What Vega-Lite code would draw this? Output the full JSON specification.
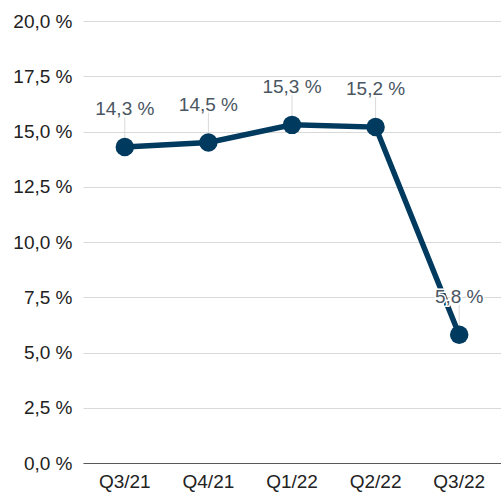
{
  "$schema": "https://vega.github.io/schema/vega-lite/v6.json",
  "autosize": {"type": "none"},
  "padding": {"left": 83, "top": 21, "right": 0, "bottom": 29},
  "width": 418,
  "height": 442,
  "background": "white",
  "config": {
    "view": {"stroke": null},
    "font": "Liberation Sans",
    "axis": {"labelFont": "Liberation Sans", "labelFontSize": 19, "labelColor": "#222222", "ticks": false, "title": null}
  },
  "data": {"values": [
    {"q": "Q3/21", "v": 14.3, "label": "14,3 %"},
    {"q": "Q4/21", "v": 14.5, "label": "14,5 %"},
    {"q": "Q1/22", "v": 15.3, "label": "15,3 %"},
    {"q": "Q2/22", "v": 15.2, "label": "15,2 %"},
    {"q": "Q3/22", "v": 5.8, "label": "5,8 %"}
  ]},
  "encoding": {
    "x": {"field": "q", "type": "nominal", "sort": null,
      "scale": {"paddingInner": 0, "paddingOuter": 0},
      "axis": {"labelAngle": 0, "labelPadding": 9, "domainColor": "#595959", "domainWidth": 1, "grid": false}},
    "y": {"field": "v", "type": "quantitative",
      "scale": {"domain": [0, 20], "nice": false},
      "axis": {"values": [0, 2.5, 5, 7.5, 10, 12.5, 15, 17.5, 20], "labelExpr": "replace(format(datum.value, '.1f'), '.', ',') + ' %'", "domain": false, "grid": true, "gridColor": "#d9d9d9", "gridWidth": 1, "labelPadding": 11}}
  },
  "layer": [
    {"mark": {"type": "rule", "color": "#d9d9d9", "strokeWidth": 1, "y2Offset": -30},
     "encoding": {"y2": {"field": "v"}}},
    {"mark": {"type": "line", "color": "#003a5f", "strokeWidth": 5.5}},
    {"mark": {"type": "point", "filled": true, "color": "#003a5f", "size": 340, "opacity": 1}},
    {"mark": {"type": "text", "dy": -38, "fontSize": 19, "stroke": "white", "strokeWidth": 3, "fill": "white"},
     "encoding": {"text": {"field": "label"}}},
    {"mark": {"type": "text", "dy": -38, "fontSize": 19, "color": "#4a5662"},
     "encoding": {"text": {"field": "label"}}}
  ]
}
